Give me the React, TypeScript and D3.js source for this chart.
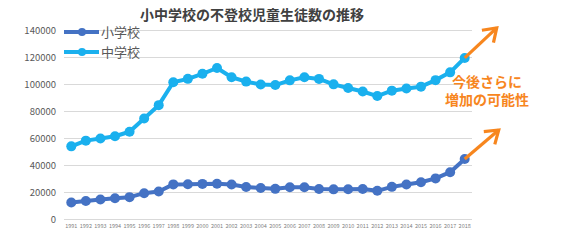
import React from "react";
import * as d3 from "d3";

const years = [1991,1992,1993,1994,1995,1996,1997,1998,1999,2000,2001,2002,2003,2004,2005,2006,2007,2008,2009,2010,2011,2012,2013,2014,2015,2016,2017,2018];
const elementary = [12645,13710,14769,15786,16569,19498,20765,26017,26047,26373,26511,25869,24077,23318,22709,23825,23927,22652,22327,22463,22622,21243,24175,25864,27583,30448,35032,44841];
const juniorHigh = [54172,58421,60039,61663,65022,74853,84701,101675,104180,107913,112211,105383,102149,100040,99578,103069,105328,104153,100105,97428,94836,91446,95442,97033,98408,103235,108999,119687];
const yTicks = [0,20000,40000,60000,80000,100000,120000,140000];
const seriesNames = ["小学校", "中学校"];
const title = "小中学校の不登校児童生徒数の推移";
const note = ["今後さらに", "増加の可能性"];

const W = 561, H = 240;
const left = 64, right = 472, top = 30.5, bottom = 219.5;
const font = "'Noto Sans CJK JP', 'Noto Sans', sans-serif";
const colors = ["#4472C4", "#1AB0EE"];
const orange = "#F7861E";

export default function App() {
  const x = d3.scalePoint<number>().domain(years).range([left, right]).padding(0.5);
  const y = d3.scaleLinear().domain([0, 140000]).range([bottom, top]);
  const line = d3.line<number>().x((_, i) => x(years[i])!).y((d) => y(d));
  const series = [elementary, juniorHigh];

  const lastX = x(years[years.length - 1])!;
  const arrows = [
    { from: [lastX, y(juniorHigh[juniorHigh.length - 1])], to: [lastX + 32, y(juniorHigh[juniorHigh.length - 1]) - 30] },
    { from: [lastX, y(elementary[elementary.length - 1])], to: [lastX + 34, y(elementary[elementary.length - 1]) - 29] },
  ];

  return (
    <svg width={W} height={H} style={{ position: "absolute", left: 0, top: 0, background: "#fff" }}>
      <text x={252} y={20} textAnchor="middle" fontFamily={font} fontWeight="bold" fontSize={14} fill="#404040">{title}</text>
      {yTicks.map((t) => (
        <g key={t}>
          <line x1={left} x2={right} y1={y(t)} y2={y(t)} stroke="#d9d9d9" strokeWidth={1} />
          <text x={56} y={y(t)} dy="0.35em" textAnchor="end" fontFamily={font} fontSize={9.5} fill="#595959">{t}</text>
        </g>
      ))}
      {years.map((yr) => (
        <text key={yr} x={x(yr)} y={228} textAnchor="middle" fontFamily={font} fontSize={5.5} fill="#7f7f7f">{yr}</text>
      ))}
      {series.map((s, si) => (
        <g key={si}>
          <path d={line(s)!} fill="none" stroke={colors[si]} strokeWidth={4} strokeLinejoin="round" />
          {s.map((v, i) => (
            <circle key={i} cx={x(years[i])} cy={y(v)} r={5} fill={colors[si]} />
          ))}
        </g>
      ))}
      {seriesNames.map((n, i) => (
        <g key={n}>
          <line x1={64} x2={99} y1={32 + i * 20} y2={32 + i * 20} stroke={colors[i]} strokeWidth={4} />
          <circle cx={82} cy={32 + i * 20} r={4} fill={colors[i]} />
          <text x={101} y={32 + i * 20} dy="0.35em" fontFamily={font} fontSize={13} fill="#595959">{n}</text>
        </g>
      ))}
      {arrows.map((a, i) => {
        const [x1, y1] = a.from, [x2, y2] = a.to;
        const ang = Math.atan2(y2 - y1, x2 - x1);
        const hl = 15, spread = 0.6;
        const h1 = [x2 - hl * Math.cos(ang - spread), y2 - hl * Math.sin(ang - spread)];
        const h2 = [x2 - hl * Math.cos(ang + spread), y2 - hl * Math.sin(ang + spread)];
        return (
          <g key={i} stroke={orange} strokeWidth={3.2} fill="none" strokeLinecap="butt" strokeLinejoin="miter">
            <line x1={x1} y1={y1} x2={x2} y2={y2} />
            <polyline points={`${h1[0]},${h1[1]} ${x2},${y2} ${h2[0]},${h2[1]}`} />
          </g>
        );
      })}
      {note.map((t, i) => (
        <text key={t} x={487} y={82 + i * 18.5} dy="0.35em" textAnchor="middle" fontFamily={font} fontWeight="bold" fontSize={14} fill={orange}>{t}</text>
      ))}
    </svg>
  );
}
